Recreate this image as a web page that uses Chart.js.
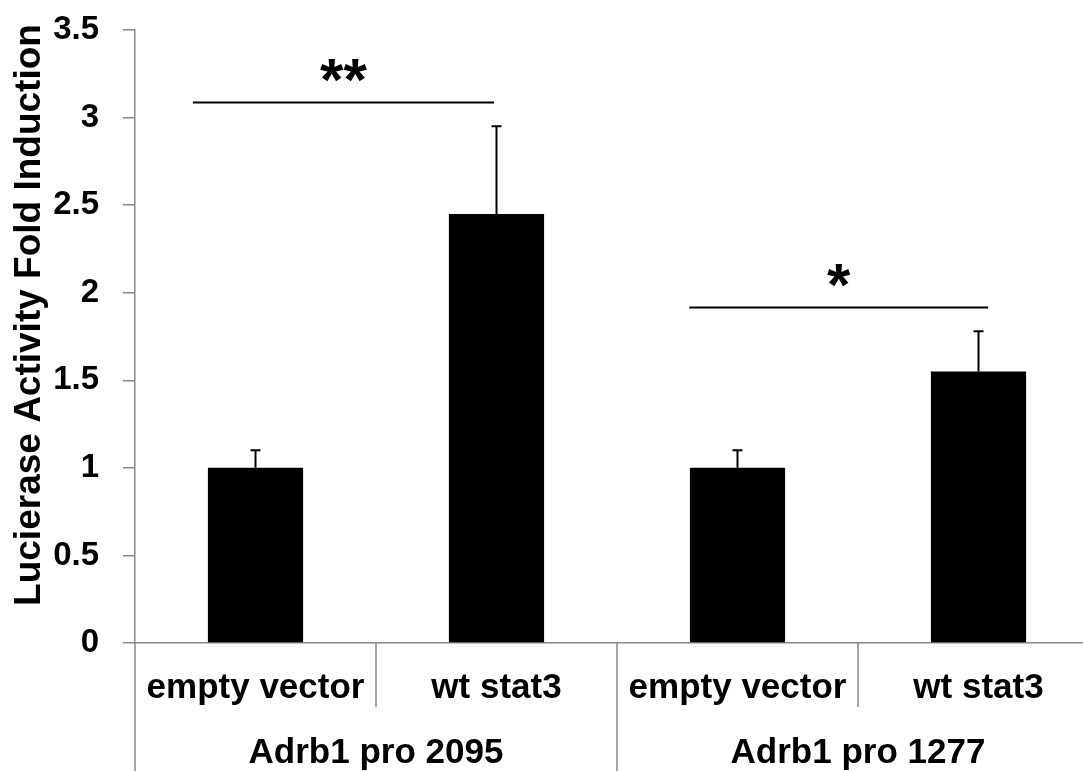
<!DOCTYPE html>
<html>
<head>
<meta charset="utf-8">
<script src="https://cdn.jsdelivr.net/npm/chart.js@4"></script>
<style>
  html, body { margin: 0; padding: 0; background: #fff; overflow: hidden; }
  .wrap { position: relative; width: 1100px; height: 771px; }
</style>
</head>
<body>
<div class="wrap"><canvas id="chart"></canvas></div>
<script>
//DATA
const categories = ['empty vector', 'wt stat3', 'empty vector', 'wt stat3'];
const groups     = ['Adrb1 pro 2095', 'Adrb1 pro 1277'];
const foldValues = [1.0, 2.45, 1.0, 1.55];
const errValues  = [0.1, 0.5, 0.1, 0.23];
const yTicks     = [0, 0.5, 1, 1.5, 2, 2.5, 3, 3.5];
const yTickText  = ['0', '0.5', '1', '1.5', '2', '2.5', '3', '3.5'];
const sigLevels  = [3.09, 1.92];
const sigLabels  = ['**', '*'];
// span of each significance line, in category units
const sigSpans   = [[-0.26, 0.99], [1.8, 3.04]];

const FONT = "'Liberation Sans', Arial, sans-serif";
const AXIS = '#888';

//ANNOTATIONS: error bars, significance lines, grouped labels
const annot = {
  id: 'annot',
  afterDatasetsDraw(chart) {
    const { ctx, scales: { x, y } } = chart;
    ctx.save();
    ctx.strokeStyle = '#000';
    ctx.lineWidth = 2;
    foldValues.forEach((v, i) => {
      const px  = x.getPixelForValue(i);
      const top = y.getPixelForValue(v + errValues[i]);
      ctx.beginPath();
      ctx.moveTo(px, y.getPixelForValue(v));
      ctx.lineTo(px, top);
      ctx.moveTo(px - 5, top);
      ctx.lineTo(px + 5, top);
      ctx.stroke();
    });

    const x0   = x.getPixelForValue(0);
    const step = x.getPixelForValue(1) - x0;
    ctx.fillStyle = '#000';
    ctx.font = `bold 60px ${FONT}`;
    ctx.textAlign = 'center';
    ctx.textBaseline = 'alphabetic';
    sigLevels.forEach((lv, i) => {
      const py = Math.round(y.getPixelForValue(lv)) + 0.5;
      const a  = x0 + sigSpans[i][0] * step;
      const b  = x0 + sigSpans[i][1] * step;
      ctx.beginPath();
      ctx.moveTo(a, py);
      ctx.lineTo(b, py);
      ctx.stroke();
      ctx.fillText(sigLabels[i], (a + b) / 2, py - 3);
    });
    ctx.restore();
  },
  afterDraw(chart) {
    const { ctx, chartArea, scales: { x } } = chart;
    const bottom = chart.height;
    const row1   = chartArea.bottom + 64;
    ctx.save();
    ctx.strokeStyle = AXIS;
    ctx.lineWidth = 1.5;

    // y axis carries on down through the label rows
    ctx.beginPath();
    ctx.moveTo(chartArea.left, chartArea.bottom);
    ctx.lineTo(chartArea.left, bottom);
    ctx.stroke();

    // separators between categories
    for (let i = 0; i < categories.length - 1; i++) {
      const px = (x.getPixelForValue(i) + x.getPixelForValue(i + 1)) / 2;
      ctx.beginPath();
      ctx.moveTo(px, chartArea.bottom);
      ctx.lineTo(px, i === 1 ? bottom : row1);
      ctx.stroke();
    }

    ctx.fillStyle = '#000';
    ctx.textAlign = 'center';
    ctx.textBaseline = 'alphabetic';
    ctx.font = `bold 35px ${FONT}`;
    categories.forEach((c, i) => {
      ctx.fillText(c, x.getPixelForValue(i), chartArea.bottom + 55);
    });
    groups.forEach((g, i) => {
      const cx = (x.getPixelForValue(i * 2) + x.getPixelForValue(i * 2 + 1)) / 2;
      ctx.fillText(g, cx, chartArea.bottom + 120);
    });

    // y axis title
    ctx.translate(30, 315);
    ctx.rotate(-Math.PI / 2);
    ctx.textBaseline = 'middle';
    ctx.font = `bold 37px ${FONT}`;
    ctx.fillText('Lucierase Activity Fold Induction', 0, 0);
    ctx.restore();
  }
};

//CHART
window.addEventListener('load', () => {
  const ctx = document.getElementById('chart');
  new Chart(ctx, {
    type: 'bar',
    data: {
      labels: categories,
      datasets: [{
        data: foldValues,
        backgroundColor: '#000',
        borderWidth: 0,
        barPercentage: 0.395,
        categoryPercentage: 1.0
      }]
    },
    options: {
      responsive: true, maintainAspectRatio: false,
      animation: false,
      layout: { padding: { top: 30, right: 1, left: 0, bottom: 0 } },
      plugins: { legend: { display: false }, tooltip: { enabled: false } },
      scales: {
        x: {
          ticks: { display: false },
          grid: { display: false },
          border: { display: true, color: AXIS, width: 1.5 },
          afterFit: s => { s.height = 128; }
        },
        y: {
          min: 0, max: 3.5,
          afterBuildTicks: s => { s.ticks = yTicks.map(v => ({ value: v })); },
          ticks: {
            color: '#000', padding: 24,
            font: { family: FONT, size: 33, weight: 'bold' },
            callback: (v, i) => yTickText[i]
          },
          grid: { drawOnChartArea: false, tickLength: 12, color: AXIS, lineWidth: 1.5 },
          border: { display: true, color: AXIS, width: 1.5 },
          afterFit: s => { s.width = 135; s.paddingTop = 0; s.paddingBottom = 0; }
        }
      }
    },
    plugins: [annot]
  });
});
</script>
</body>
</html>
